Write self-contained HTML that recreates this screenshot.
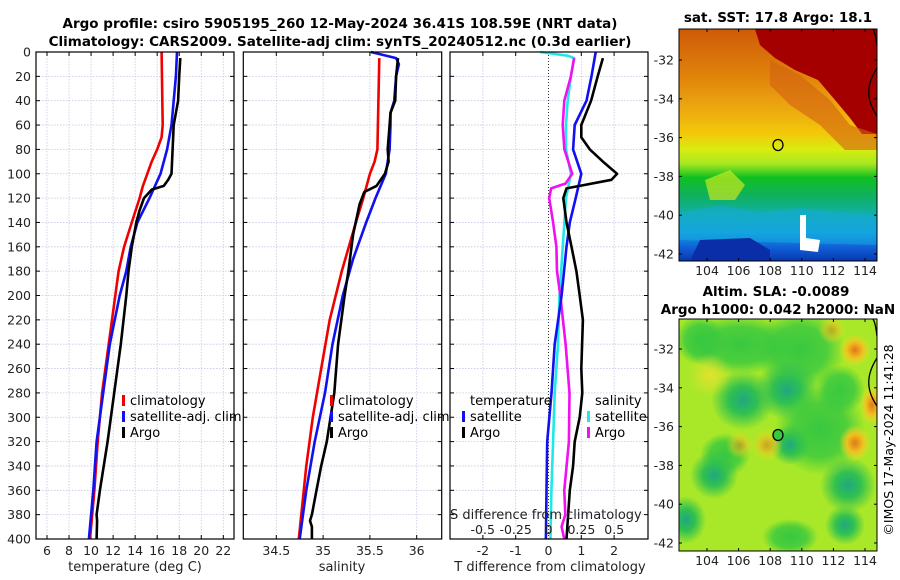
<!DOCTYPE html>
<html><head><meta charset="utf-8"><style>
body{margin:0;background:#fff;}
svg{display:block;font-family:"DejaVu Sans","Liberation Sans",sans-serif;}
</style></head><body>
<svg id="fig" width="900" height="580" viewBox="0 0 900 580" xmlns="http://www.w3.org/2000/svg">
<defs>
<linearGradient id="sstg" x1="0" y1="0" x2="0" y2="1">
<stop offset="0" stop-color="#cf5a08"/>
<stop offset="0.2" stop-color="#e0820a"/>
<stop offset="0.33" stop-color="#eba510"/>
<stop offset="0.45" stop-color="#f3c80a"/>
<stop offset="0.52" stop-color="#d8ec10"/>
<stop offset="0.58" stop-color="#a8e820"/>
<stop offset="0.64" stop-color="#10c020"/>
<stop offset="0.72" stop-color="#10b060"/>
<stop offset="0.8" stop-color="#10b0a8"/>
<stop offset="0.88" stop-color="#10a0e0"/>
<stop offset="0.94" stop-color="#1060d8"/>
<stop offset="1" stop-color="#0838b0"/>
</linearGradient>
<radialGradient id="blobG"><stop offset="0" stop-color="#20a880"/><stop offset="0.45" stop-color="#30c050"/><stop offset="1" stop-color="#30c050" stop-opacity="0"/></radialGradient>
<radialGradient id="blobGr"><stop offset="0" stop-color="#38c840"/><stop offset="0.6" stop-color="#38c840" stop-opacity="0.8"/><stop offset="1" stop-color="#38c840" stop-opacity="0"/></radialGradient>
<radialGradient id="blobO"><stop offset="0" stop-color="#e07818"/><stop offset="0.5" stop-color="#f0c020"/><stop offset="1" stop-color="#f0e020" stop-opacity="0"/></radialGradient>
<radialGradient id="blobY"><stop offset="0" stop-color="#f0e030"/><stop offset="1" stop-color="#f0e030" stop-opacity="0"/></radialGradient>
<clipPath id="clipTop"><rect x="679" y="29" width="198" height="232"/></clipPath>
<clipPath id="clipBot"><rect x="679" y="319" width="198" height="232"/></clipPath>
</defs>

<g font-weight="bold" font-size="13.5" text-anchor="middle" fill="#000">
<text x="340" y="28">Argo profile: csiro 5905195_260 12-May-2024 36.41S 108.59E (NRT data)</text>
<text x="340" y="46">Climatology: CARS2009. Satellite-adj clim: synTS_20240512.nc (0.3d earlier)</text>
</g>

<g id="panels"></g>

<g>
<text x="778" y="22" font-size="13.5" font-weight="bold" text-anchor="middle">sat. SST: 17.8 Argo: 18.1</text>
<g clip-path="url(#clipTop)">
<rect x="679" y="29" width="198" height="232" fill="url(#sstg)"/>
<path d="M755,29 L877,29 L877,134 L862,134 L850,118 L835,100 L818,80 L795,70 L775,58 L760,45 Z" fill="#a50000"/>
<path d="M770,60 L800,75 L830,100 L850,125 L877,134 L877,150 L845,150 L820,125 L790,105 L770,85 Z" fill="#d26010" opacity="0.6"/>
<path d="M705,180 L730,170 L745,185 L735,200 L710,200 Z" fill="#c8e820" opacity="0.7"/>
<path d="M679,213 L720,205 L760,212 L800,208 L877,215 L877,245 L679,240 Z" fill="#18a8e0" opacity="0.5"/>
<path d="M700,240 L750,238 L770,250 L770,261 L690,261 Z" fill="#0a2ea8"/>
<path d="M800,215 L806,215 L806,238 L820,240 L818,252 L800,250 Z" fill="#fff"/>
</g>
<rect x="679" y="29" width="198" height="232" fill="none" stroke="#000" stroke-width="1"/>
<path d="M873,29 C876,34 876,40 877,46 M877,68 C866,85 866,100 877,116" fill="none" stroke="#000" stroke-width="1.3"/>
<ellipse cx="778" cy="145" rx="5" ry="5.5" fill="none" stroke="#000" stroke-width="1.3"/>
</g>

<g>
<text x="776" y="296" font-size="13.5" font-weight="bold" text-anchor="middle">Altim. SLA: -0.0089</text>
<text x="778" y="314" font-size="13.5" font-weight="bold" text-anchor="middle">Argo h1000: 0.042 h2000: NaN</text>
<g clip-path="url(#clipBot)">
<rect x="679" y="319" width="198" height="232" fill="#a8e828"/>
<ellipse cx="740" cy="345" rx="55" ry="30" fill="url(#blobGr)"/>
<ellipse cx="800" cy="350" rx="45" ry="40" fill="url(#blobGr)"/>
<ellipse cx="700" cy="340" rx="25" ry="25" fill="url(#blobGr)"/>
<ellipse cx="743" cy="400" rx="32" ry="30" fill="url(#blobG)"/>
<ellipse cx="787" cy="390" rx="32" ry="30" fill="url(#blobG)"/>
<ellipse cx="820" cy="430" rx="45" ry="45" fill="url(#blobGr)"/>
<ellipse cx="790" cy="445" rx="20" ry="20" fill="url(#blobG)"/>
<ellipse cx="725" cy="455" rx="25" ry="22" fill="url(#blobGr)"/>
<ellipse cx="714" cy="475" rx="24" ry="24" fill="url(#blobG)"/>
<ellipse cx="848" cy="485" rx="28" ry="28" fill="url(#blobG)"/>
<ellipse cx="840" cy="390" rx="25" ry="25" fill="url(#blobGr)"/>
<ellipse cx="686" cy="520" rx="20" ry="24" fill="url(#blobG)"/>
<ellipse cx="845" cy="525" rx="20" ry="20" fill="url(#blobG)"/>
<ellipse cx="790" cy="537" rx="28" ry="18" fill="url(#blobGr)"/>
<ellipse cx="855" cy="350" rx="16" ry="16" fill="url(#blobO)"/>
<ellipse cx="855" cy="443" rx="16" ry="18" fill="url(#blobO)"/>
<ellipse cx="872" cy="405" rx="12" ry="20" fill="url(#blobO)"/>
<ellipse cx="767" cy="445" rx="16" ry="16" fill="url(#blobO)" opacity="0.6"/>
<ellipse cx="740" cy="445" rx="14" ry="14" fill="url(#blobO)" opacity="0.5"/>
<ellipse cx="832" cy="330" rx="14" ry="14" fill="url(#blobO)" opacity="0.5"/>
<ellipse cx="710" cy="375" rx="22" ry="22" fill="url(#blobY)" opacity="0.8"/>
</g>
<rect x="679" y="319" width="198" height="232" fill="none" stroke="#000" stroke-width="1"/>
<path d="M873,319 C876,324 876,330 877,336 M877,358 C866,375 866,390 877,406" fill="none" stroke="#000" stroke-width="1.3"/>
<ellipse cx="778" cy="435" rx="5" ry="5.5" fill="#38c840" stroke="#000" stroke-width="1.3"/>
</g>
<g id="mapaxes"></g>
<text transform="translate(893,440) rotate(-90)" font-size="12.5" text-anchor="middle">©IMOS 17-May-2024 11:41:28</text>
</svg>
<script>
const tClimDepth=[0,60,70,80,90,100,110,120,140,160,180,200,240,280,320,360,400];
const tClimVal=[16.4,16.5,16.4,16.0,15.5,15.1,14.7,14.4,13.7,13.0,12.5,12.2,11.6,11.0,10.6,10.3,9.9];
const tSatDepth=[0,20,40,60,80,100,110,120,140,160,180,200,240,280,320,360,400];
const tSatVal=[17.8,17.7,17.5,17.3,16.9,16.3,15.8,15.3,14.2,13.6,13.2,12.6,11.7,11.1,10.5,10.2,9.8];
const tArgoDepth=[5,20,40,60,80,100,105,110,113,120,130,140,160,180,200,240,280,320,360,380,385,400];
const tArgoVal=[18.1,18.0,17.9,17.5,17.4,17.3,17.0,16.6,15.5,14.8,14.4,14.1,13.7,13.4,13.2,12.7,12.1,11.5,10.8,10.5,10.55,10.5];
const sClimDepth=[5,80,90,100,120,140,180,220,260,300,340,400];
const sClimVal=[35.6,35.58,35.55,35.50,35.43,35.35,35.2,35.07,34.98,34.89,34.82,34.74];
const sSatDepth=[0,5,10,20,40,50,60,80,100,120,140,170,200,240,280,320,360,400];
const sSatVal=[35.51,35.78,35.81,35.78,35.76,35.72,35.72,35.71,35.67,35.56,35.46,35.32,35.21,35.1,35.02,34.91,34.82,34.75];
const sArgoDepth=[5,20,40,50,60,80,90,100,110,115,125,150,180,200,240,280,320,340,360,380,385,390,400];
const sArgoVal=[35.8,35.78,35.77,35.72,35.71,35.69,35.70,35.66,35.57,35.44,35.39,35.32,35.27,35.23,35.16,35.12,35.04,34.98,34.93,34.88,34.86,34.88,34.88];
const dtSatDepth=[0,20,40,60,80,100,120,140,160,200,240,280,320,360,400];
const dtSatVal=[1.44,1.31,1.16,0.8,0.75,1.0,0.83,0.65,0.55,0.4,0.19,0.09,-0.04,-0.06,-0.08];
const dtArgoDepth=[5,20,40,60,70,80,90,100,105,110,112,120,140,160,180,200,220,260,280,300,320,340,360,400];
const dtArgoVal=[1.66,1.5,1.3,1.0,1.0,1.26,1.66,2.09,1.92,0.95,0.55,0.45,0.55,0.7,0.85,0.95,1.05,1.0,1.03,0.95,0.8,0.75,0.65,0.55];
const dsSatDepth=[0,3,5,20,40,60,80,100,120,140,200,240,280,320,360,400];
const dsSatVal=[-0.064,0.146,0.195,0.17,0.146,0.133,0.133,0.17,0.133,0.121,0.084,0.072,0.047,0.035,0.022,0.015];
const dsArgoDepth=[5,20,40,60,80,100,108,112,120,140,160,180,200,240,280,320,360,380,390,400];
const dsArgoVal=[0.195,0.17,0.12,0.108,0.121,0.18,0.13,0.02,0.005,0.035,0.06,0.065,0.09,0.13,0.16,0.155,0.12,0.128,0.1,0.12];
const depthTicks=[0,20,40,60,80,100,120,140,160,180,200,220,240,260,280,300,320,340,360,380,400];
const tTicks=[6,8,10,12,14,16,18,20,22];
const sTicks=[34.5,35,35.5,36];
const dtTicks=[-2,-1,0,1,2];
const dsTicks=[-0.5,-0.25,0,0.25,0.5];
const dsTickLabels=["-0.5","-0.25","0","0.25","0.5"];
const latTicks=[-32,-34,-36,-38,-40,-42];
const lonTicks=[104,106,108,110,112,114];

const NS='http://www.w3.org/2000/svg';
const root=document.getElementById('panels');
function el(tag,attrs,parent){const e=document.createElementNS(NS,tag);for(const k in attrs)e.setAttribute(k,attrs[k]);(parent||root).appendChild(e);return e;}
const Y0=52,Y1=539;
const yD=d=>Y0+(Y1-Y0)*d/400;
const xT=t=>47+(t-6)*(223.3-47)/16;
const xS=s=>276.3+(s-34.5)*(416.7-276.3)/1.5;
const xDT=t=>548.5+t*32.8;
const xDS=s=>548.5+s*131.5;

function frame(x0,x1,name){
  const g=el('g',{});
  
  
  return g;
}
function grid(g,x0,x1,xs){
  depthTicks.forEach(d=>{if(d>0&&d<400)el('line',{x1:x0,x2:x1,y1:yD(d),y2:yD(d),stroke:'#c4c8e4','stroke-width':0.8,'stroke-dasharray':'1.5,1.5'},g);
    el('line',{x1:x0,x2:x0+4,y1:yD(d),y2:yD(d),stroke:'#000','stroke-width':1},g);
    el('line',{x1:x1-4,x2:x1,y1:yD(d),y2:yD(d),stroke:'#000','stroke-width':1},g);});
  xs.forEach(x=>{el('line',{x1:x,x2:x,y1:Y0,y2:Y1,stroke:'#c4c8e4','stroke-width':0.8,'stroke-dasharray':'1.5,1.5'},g);
    el('line',{x1:x,x2:x,y1:Y1-4,y2:Y1,stroke:'#000'},g);el('line',{x1:x,x2:x,y1:Y0,y2:Y0+4,stroke:'#000'},g);});
}
function line(g,dep,val,fx,color,name){
  const p=el('polyline',{points:dep.map((d,i)=>fx(val[i]).toFixed(1)+','+yD(d).toFixed(1)).join(' '),fill:'none',stroke:color,'stroke-width':2.6,'stroke-linejoin':'round'},g);
  
  
}
function legend(g,x,y,color,label,name){
  el('rect',{x:x-2,y:y-10,width:3,height:11,fill:color},g);
  const t=el('text',{x:x+6,y:y,'font-size':13},g);t.textContent=label;
  
  
}
function xlabels(g,ticks,fx,y,labels){ticks.forEach((v,i)=>{const t=el('text',{x:fx(v),y:y,'font-size':12.5,'text-anchor':'middle',fill:'#222'},g);t.textContent=labels?labels[i]:String(v);});}

let g=frame(36,234,'temperature-panel');
grid(g,36,234,tTicks.map(xT));
line(g,tClimDepth,tClimVal,xT,'#f00000','climatology-temperature-line');
line(g,tSatDepth,tSatVal,xT,'#1010f0','satellite-temperature-line');
line(g,tArgoDepth,tArgoVal,xT,'#000','argo-temperature-line');
el('rect',{x:36,y:Y0,width:198,height:Y1-Y0,fill:'none',stroke:'#000','stroke-width':1.2},g);
depthTicks.forEach(d=>{const t=el('text',{x:31,y:yD(d)+4.5,'font-size':12.5,'text-anchor':'end',fill:'#222'},g);t.textContent=d;});
xlabels(g,tTicks,xT,555);
let xl=el('text',{x:135,y:571,'font-size':13,'text-anchor':'middle',fill:'#222'},g);xl.textContent='temperature (deg C)';


legend(g,124,405,'#f00000','climatology','legend-climatology');
legend(g,124,421,'#1010f0','satellite-adj. clim','legend-satellite');
legend(g,124,437,'#000','Argo','legend-argo');

g=frame(243,441,'salinity-panel');
grid(g,243.3,441.7,sTicks.map(xS));
line(g,sClimDepth,sClimVal,xS,'#f00000','climatology-salinity-line');
line(g,sSatDepth,sSatVal,xS,'#1010f0','satellite-salinity-line');
line(g,sArgoDepth,sArgoVal,xS,'#000','argo-salinity-line');
el('rect',{x:243.3,y:Y0,width:198.4,height:Y1-Y0,fill:'none',stroke:'#000','stroke-width':1.2},g);
xlabels(g,sTicks,xS,555);
xl=el('text',{x:342,y:571,'font-size':13,'text-anchor':'middle',fill:'#222'},g);xl.textContent='salinity';


legend(g,332,405,'#f00000','climatology','legend-climatology-2');
legend(g,332,421,'#1010f0','satellite-adj. clim','legend-satellite-2');
legend(g,332,437,'#000','Argo','legend-argo-2');

g=frame(450,648,'difference-panel');
grid(g,450,648,dtTicks.filter(v=>v!==0).map(xDT));
el('line',{x1:xDT(0),x2:xDT(0),y1:Y0,y2:Y1,stroke:'#333','stroke-width':1,'stroke-dasharray':'1,2'},g);
line(g,dsSatDepth,dsSatVal,xDS,'#20e8e8','satellite-salinity-diff-line');
line(g,dsArgoDepth,dsArgoVal,xDS,'#f010f0','argo-salinity-diff-line');
line(g,dtSatDepth,dtSatVal,xDT,'#1010f0','satellite-temperature-diff-line');
line(g,dtArgoDepth,dtArgoVal,xDT,'#000','argo-temperature-diff-line');
el('rect',{x:450,y:Y0,width:198,height:Y1-Y0,fill:'none',stroke:'#000','stroke-width':1.2},g);
let tt=el('text',{x:470,y:405,'font-size':13},g);tt.textContent='temperature';
tt=el('text',{x:595,y:405,'font-size':13},g);tt.textContent='salinity';
legend(g,464,421,'#1010f0','satellite','legend-t-satellite');
legend(g,464,437,'#000','Argo','legend-t-argo');
legend(g,589,421,'#20e8e8','satellite','legend-s-satellite');
legend(g,589,437,'#f010f0','Argo','legend-s-argo');
tt=el('text',{x:450,y:519,'font-size':13,fill:'#222'},g);tt.textContent='S difference from climatology';


xlabels(g,dsTicks,xDS,534,dsTickLabels);
xlabels(g,dtTicks,xDT,555);
xl=el('text',{x:550,y:571,'font-size':13,'text-anchor':'middle',fill:'#222'},g);xl.textContent='T difference from climatology';



const ma=document.getElementById('mapaxes');
const lonX=l=>707+(l-104)*15.8;
[[29,60,275],[319,349,565]].forEach(([top,y32,ylab])=>{
  latTicks.forEach(l=>{const y=y32+(-32-l)*19.4;
    el('line',{x1:679,x2:682,y1:y,y2:y,stroke:'#000'},ma);el('line',{x1:874,x2:877,y1:y,y2:y,stroke:'#000'},ma);
    const t=el('text',{x:674,y:y+4.5,'font-size':12.5,'text-anchor':'end',fill:'#222'},ma);t.textContent=l;});
  lonTicks.forEach(l=>{const x=lonX(l);
    el('line',{x1:x,x2:x,y1:top+232-3,y2:top+232,stroke:'#000'},ma);el('line',{x1:x,x2:x,y1:top,y2:top+3,stroke:'#000'},ma);
    const t=el('text',{x:x,y:ylab,'font-size':12.5,'text-anchor':'middle',fill:'#222'},ma);t.textContent=l;});
});
</script>
</body></html>
